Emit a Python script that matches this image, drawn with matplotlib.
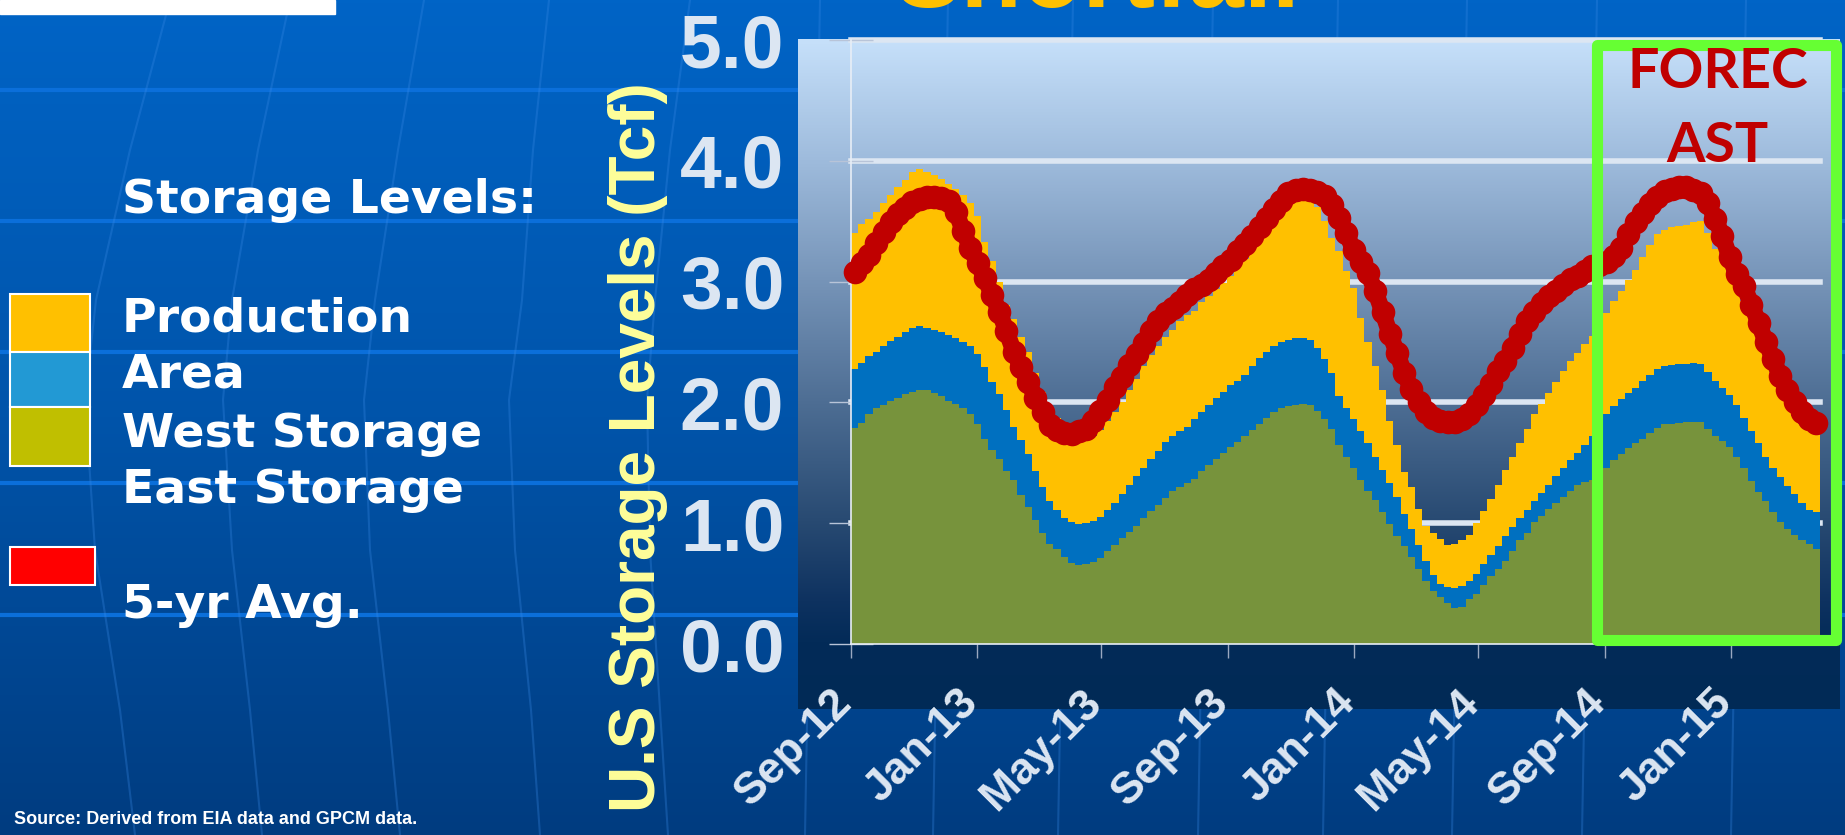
import numpy as np
import pandas as pd
import matplotlib
matplotlib.use('Agg')
import matplotlib.pyplot as plt
import matplotlib.dates as mdates
from matplotlib.colors import LinearSegmentedColormap
from matplotlib.patches import Rectangle
from matplotlib.transforms import offset_copy

# weekly U.S. storage levels (Tcf), stacked tops
west_storage = [
    1.79, 1.83, 1.90, 1.95, 1.98, 2.01, 2.04, 2.07, 2.09, 2.10,
    2.10, 2.08, 2.05, 2.01, 1.99, 1.95, 1.90, 1.82, 1.70, 1.61,
    1.53, 1.43, 1.36, 1.23, 1.13, 1.03, 0.92, 0.83, 0.79, 0.72,
    0.67, 0.65, 0.66, 0.68, 0.71, 0.77, 0.82, 0.88, 0.93, 0.98,
    1.04, 1.10, 1.15, 1.21, 1.27, 1.30, 1.33, 1.37, 1.43, 1.48,
    1.53, 1.58, 1.63, 1.67, 1.72, 1.77, 1.82, 1.87, 1.92, 1.95,
    1.97, 1.98, 1.99, 1.98, 1.93, 1.86, 1.78, 1.65, 1.55, 1.46,
    1.36, 1.27, 1.19, 1.09, 0.99, 0.89, 0.81, 0.72, 0.62, 0.52,
    0.44, 0.39, 0.34, 0.30, 0.31, 0.37, 0.41, 0.49, 0.56, 0.62,
    0.69, 0.77, 0.86, 0.92, 1.01, 1.06, 1.12, 1.17, 1.22, 1.27,
    1.32, 1.34, 1.36, 1.42, 1.46, 1.52, 1.57, 1.62, 1.66, 1.70,
    1.75, 1.79, 1.82, 1.82, 1.83, 1.84, 1.84, 1.84, 1.78, 1.72,
    1.68, 1.63, 1.55, 1.46, 1.35, 1.26, 1.18, 1.09, 1.01, 0.95,
    0.90, 0.86, 0.83, 0.79,
]
area_top = [
    2.28, 2.33, 2.38, 2.42, 2.47, 2.51, 2.54, 2.58, 2.62, 2.63,
    2.62, 2.60, 2.58, 2.56, 2.53, 2.50, 2.47, 2.40, 2.29, 2.17,
    2.07, 1.94, 1.80, 1.69, 1.57, 1.43, 1.30, 1.18, 1.11, 1.04,
    1.01, 0.99, 1.00, 1.02, 1.05, 1.11, 1.17, 1.24, 1.32, 1.39,
    1.46, 1.53, 1.60, 1.67, 1.72, 1.76, 1.80, 1.86, 1.92, 1.98,
    2.04, 2.09, 2.14, 2.18, 2.23, 2.30, 2.37, 2.42, 2.47, 2.50,
    2.52, 2.53, 2.53, 2.52, 2.45, 2.36, 2.24, 2.05, 1.95, 1.86,
    1.76, 1.66, 1.55, 1.44, 1.33, 1.22, 1.08, 0.95, 0.82, 0.69,
    0.57, 0.50, 0.47, 0.46, 0.48, 0.52, 0.58, 0.66, 0.74, 0.81,
    0.89, 0.97, 1.04, 1.11, 1.18, 1.25, 1.32, 1.39, 1.46, 1.52,
    1.58, 1.65, 1.72, 1.80, 1.90, 1.97, 2.03, 2.08, 2.12, 2.18,
    2.23, 2.28, 2.30, 2.31, 2.32, 2.32, 2.33, 2.32, 2.25, 2.18,
    2.12, 2.06, 1.98, 1.87, 1.76, 1.66, 1.55, 1.46, 1.38, 1.31,
    1.24, 1.17, 1.11, 1.09,
]
production_top = [
    3.40, 3.48, 3.52, 3.58, 3.65, 3.72, 3.78, 3.84, 3.91, 3.93,
    3.91, 3.88, 3.85, 3.81, 3.77, 3.72, 3.65, 3.54, 3.33, 3.17,
    3.00, 2.81, 2.69, 2.54, 2.42, 2.24, 2.09, 1.97, 1.87, 1.80,
    1.76, 1.74, 1.73, 1.72, 1.77, 1.85, 1.92, 2.00, 2.10, 2.19,
    2.30, 2.39, 2.47, 2.54, 2.60, 2.67, 2.72, 2.76, 2.83, 2.88,
    2.94, 2.99, 3.05, 3.12, 3.19, 3.27, 3.36, 3.42, 3.51, 3.58,
    3.64, 3.68, 3.70, 3.69, 3.62, 3.50, 3.36, 3.25, 3.09, 2.95,
    2.70, 2.50, 2.30, 2.10, 1.85, 1.65, 1.42, 1.30, 1.12, 0.98,
    0.92, 0.87, 0.82, 0.83, 0.86, 0.90, 1.00, 1.10, 1.20, 1.32,
    1.44, 1.55, 1.66, 1.78, 1.90, 1.99, 2.08, 2.17, 2.26, 2.34,
    2.41, 2.48, 2.55, 2.62, 2.74, 2.84, 2.92, 3.01, 3.10, 3.20,
    3.30, 3.39, 3.43, 3.45, 3.46, 3.47, 3.49, 3.50, 3.40, 3.27,
    3.17, 3.06, 2.94, 2.84, 2.69, 2.54, 2.39, 2.25, 2.11, 1.99,
    1.89, 1.82, 1.77, 1.75,
]
avg_5yr = [
    3.08, 3.15, 3.22, 3.32, 3.41, 3.49, 3.56, 3.61, 3.66, 3.68,
    3.70, 3.70, 3.69, 3.67, 3.58, 3.42, 3.28, 3.15, 3.03, 2.89,
    2.75, 2.59, 2.42, 2.29, 2.17, 2.04, 1.92, 1.81, 1.77, 1.75,
    1.74, 1.76, 1.78, 1.85, 1.93, 2.02, 2.13, 2.21, 2.31, 2.40,
    2.49, 2.59, 2.67, 2.74, 2.78, 2.83, 2.89, 2.94, 2.97, 3.01,
    3.07, 3.13, 3.18, 3.25, 3.31, 3.38, 3.45, 3.53, 3.60, 3.67,
    3.73, 3.76, 3.77, 3.76, 3.74, 3.71, 3.63, 3.53, 3.40, 3.26,
    3.16, 3.07, 2.92, 2.75, 2.57, 2.41, 2.24, 2.11, 2.00, 1.92,
    1.87, 1.85, 1.84, 1.84, 1.86, 1.90, 1.98, 2.06, 2.15, 2.26,
    2.34, 2.45, 2.57, 2.67, 2.75, 2.82, 2.88, 2.92, 2.97, 3.02,
    3.05, 3.09, 3.13, 3.14, 3.16, 3.21, 3.28, 3.39, 3.49, 3.57,
    3.64, 3.70, 3.75, 3.77, 3.78, 3.78, 3.76, 3.73, 3.65, 3.52,
    3.38, 3.20, 3.06, 2.96, 2.81, 2.66, 2.50, 2.36, 2.22, 2.10,
    2.00, 1.92, 1.86, 1.83,
]

first_week = '2012-09-01'
tick_dates = ['2012-09-01', '2013-01-01', '2013-05-01', '2013-09-01',
              '2014-01-01', '2014-05-01', '2014-09-01', '2015-01-01']
tick_labels = ['Sep-12', 'Jan-13', 'May-13', 'Sep-13',
               'Jan-14', 'May-14', 'Sep-14', 'Jan-15']
y_ticks = [0, 1, 2, 3, 4, 5]
legend_labels = ['Production', 'Area', 'West Storage', 'East Storage']
legend_colors = ['#ffc000', '#2299d4', '#c0bf00']

W, H = 1845, 835
fig = plt.figure(figsize=(W / 100, H / 100), dpi=100)

# slide background in pixel coordinates
bg = fig.add_axes([0, 0, 1, 1], zorder=-1)
bg.set_xlim(0, W)
bg.set_ylim(H, 0)
bg.axis('off')
grad = np.linspace(0, 1, 256).reshape(-1, 1)
bg_cmap = LinearSegmentedColormap.from_list('bg', ['#0064c6', '#0054aa', '#003c80'])
bg.imshow(grad, cmap=bg_cmap, extent=[0, W, H, 0], aspect='auto', zorder=0)

for y in [90, 221, 352, 483, 615]:
    bg.plot([0, W], [y, y], color='#0b6fda', lw=3, zorder=1)

curve_y = [0, 150, 300, 400, 550, 710, 835]
curves_x = [[170, 130, 96, 85, 95, 120, 135],
            [290, 258, 232, 223, 232, 250, 262],
            [424, 398, 375, 364, 370, 388, 400],
            [549, 533, 522, 509, 515, 531, 540],
            [690, 670, 655, 647, 650, 660, 668]]
for cx in curves_x:
    bg.plot(cx, curve_y, color='#3a8ae6', lw=1.5, alpha=0.3, zorder=1)
for x0 in [805, 933, 1058, 1198, 1323, 1452, 1582, 1731]:
    bg.plot([x0 + 15, x0], [0, H], color='#3a8ae6', lw=1.5, alpha=0.3, zorder=1)

bg.add_patch(Rectangle((0, 0), 335, 14, color='white', zorder=3))

# chart panel gradient
panel_cmap = LinearSegmentedColormap.from_list('panel', [
    (0.0, '#c6e0fa'), (0.18, '#9ebbdc'), (0.36, '#7694b8'), (0.54, '#4e6e94'),
    (0.72, '#284a72'), (0.84, '#0e3260'), (0.90, '#032b58'), (1.0, '#012a56')])
bg.imshow(grad, cmap=panel_cmap, extent=[798, 1840, 709, 39], aspect='auto', zorder=2)

# legend on the left
bg.text(122, 213, 'Storage Levels:', fontsize=34, fontweight='bold', color='white',
        family='DejaVu Sans', va='baseline', zorder=4)
box_y = [294, 352, 407, 466]
for i, c in enumerate(legend_colors):
    bg.add_patch(Rectangle((10, box_y[i]), 80, box_y[i + 1] - box_y[i], facecolor=c,
                           edgecolor='white', lw=1.5, zorder=4))
for lab, yb in zip(legend_labels, [332, 388, 447, 503]):
    bg.text(122, yb, lab, fontsize=34, fontweight='bold', color='white',
            family='DejaVu Sans', va='baseline', zorder=4)
bg.add_patch(Rectangle((10, 547), 85, 38, facecolor='#ff0000', edgecolor='white', lw=1.5, zorder=4))
bg.text(122, 618, '5-yr Avg.', fontsize=34, fontweight='bold', color='white',
        family='DejaVu Sans', va='baseline', zorder=4)

bg.text(638, 447, 'U.S Storage Levels (Tcf)', rotation=90, ha='center', va='center',
        fontsize=46, fontweight='bold', color='#ffff99', family='Liberation Sans', zorder=4)
bg.text(14, 820, 'Source: Derived from EIA data and GPCM data.', va='center',
        fontsize=13, fontweight='bold', color='white', family='Liberation Sans', zorder=4)

# data axes
ax = fig.add_axes([851 / W, 1 - 644 / H, (1820 - 851) / W, (644 - 40) / H], zorder=1)
ax.patch.set_alpha(0)

weeks = pd.date_range(first_week, periods=len(west_storage), freq='7D')
edges = mdates.date2num(weeks)
edges = np.append(edges, edges[-1] + 7)
centers = edges[:-1] + 3.5


def step_vals(v):
    return np.append(v, v[-1])


for v in [1, 2, 3, 4, 5]:
    ax.axhline(v, color='#dce6f2', lw=4, zorder=1, clip_on=False)

ax.fill_between(edges, 0, step_vals(west_storage), step='post', color='#77933c', lw=0, zorder=2)
ax.fill_between(edges, step_vals(west_storage), step_vals(area_top), step='post',
                color='#0070c0', lw=0, zorder=2)
ax.fill_between(edges, step_vals(area_top), step_vals(production_top), step='post',
                color='#ffc000', lw=0, zorder=2)
ax.plot(centers, avg_5yr, color='#c00000', lw=12, marker='o', ms=17, mew=0,
        solid_joinstyle='round', solid_capstyle='round', zorder=4, clip_on=False)

ax.set_xlim(edges[0], edges[-1])
ax.set_ylim(0, 5)
for s in ['top', 'right']:
    ax.spines[s].set_visible(False)
for s in ['left', 'bottom']:
    ax.spines[s].set_color('#e8eef6')
    ax.spines[s].set_linewidth(1.2)
    ax.spines[s].set_zorder(3)

tick_nums = mdates.date2num(pd.to_datetime(tick_dates))
ax.set_xticks(tick_nums)
ax.set_xticklabels([])
ax.tick_params(axis='x', direction='out', length=10, width=1, color='#9aa8c0')
ax.set_yticks(y_ticks)
ax.set_yticklabels([f'{v:.1f}' for v in y_ticks], fontsize=54, fontweight='bold',
                   color='#dce6f2', family='Liberation Sans')
ax.tick_params(axis='y', direction='inout', length=32, width=1, color='#b8c4d8', pad=32)

lab_trans = offset_copy(ax.get_xaxis_transform(), fig=fig, x=-20, y=-38, units='dots')
for d, lab in zip(tick_nums, tick_labels):
    ax.text(d, 0, lab, transform=lab_trans, rotation=45, rotation_mode='anchor',
            ha='right', va='top', fontsize=32, fontweight='bold', color='#dce6f2',
            family='Liberation Sans', clip_on=False)

# foreground: forecast box and cut-off title
fg = fig.add_axes([0, 0, 1, 1], zorder=5)
fg.set_xlim(0, W)
fg.set_ylim(H, 0)
fg.axis('off')
fg.patch.set_alpha(0)
fg.add_patch(Rectangle((1597, 45), 1836 - 1597, 640 - 45, fill=False, edgecolor='#66ff33',
                       lw=8, joinstyle='round'))
fg.text(1718, 88, 'FOREC', ha='center', va='baseline', fontsize=40, fontweight='bold',
        color='#c00000', family='Lato')
fg.text(1717, 162, 'AST', ha='center', va='baseline', fontsize=40, fontweight='bold',
        color='#c00000', family='Lato')
fg.text(1097, 7, 'Shortfall', ha='center', va='baseline', fontsize=72, fontweight='bold',
        color='#ffc000', family='Liberation Sans')

fig.savefig('out.png', dpi=100)
